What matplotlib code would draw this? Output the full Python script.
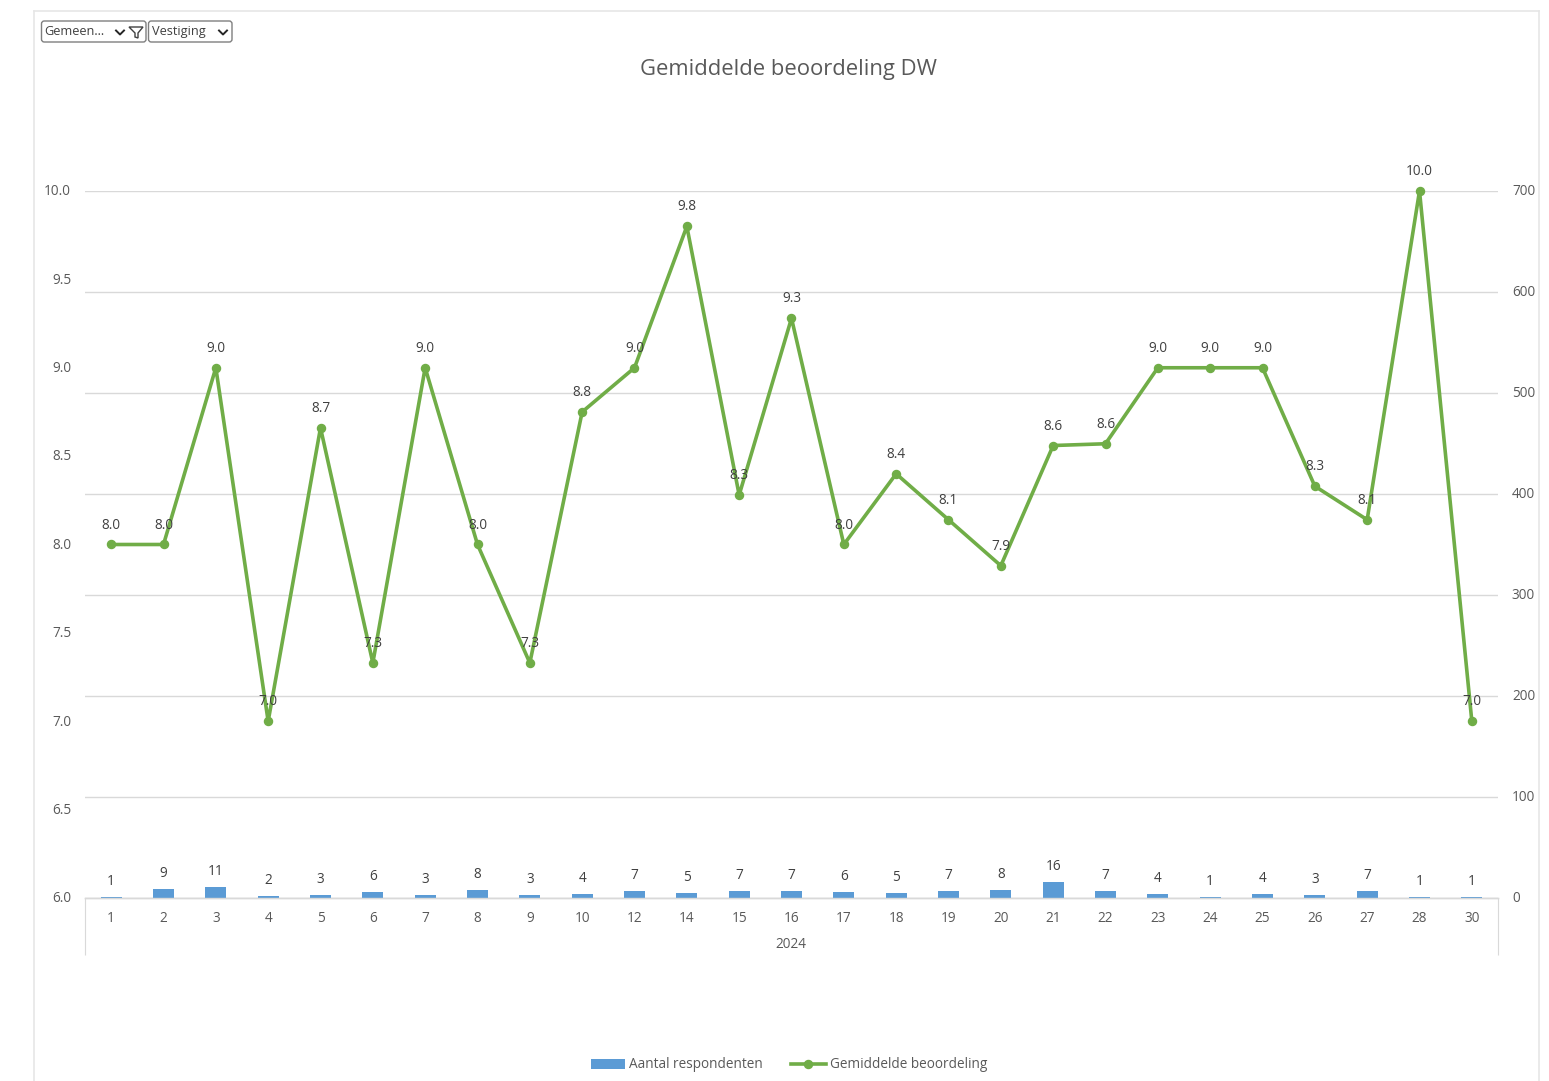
import matplotlib
matplotlib.use("Agg")
import matplotlib.pyplot as plt
from matplotlib.lines import Line2D
from matplotlib.patches import FancyBboxPatch, Polygon
from matplotlib.transforms import ScaledTranslation

plt.rcParams['font.family'] = ['Open Sans', 'DejaVu Sans']

days = ['1','2','3','4','5','6','7','8','9','10','12','14','15','16','17','18','19','20','21','22','23','24','25','26','27','28','30']
respondents = [1,9,11,2,3,6,3,8,3,4,7,5,7,7,6,5,7,8,16,7,4,1,4,3,7,1,1]
ratings = [8.0,8.0,9.0,7.0,8.66,7.33,9.0,8.0,7.33,8.75,9.0,9.8,8.28,9.28,8.0,8.4,8.14,7.88,8.56,8.57,9.0,9.0,9.0,8.33,8.14,10.0,7.0]
left_ticks = [6.0,6.5,7.0,7.5,8.0,8.5,9.0,9.5,10.0]
right_ticks = [0,100,200,300,400,500,600,700]
year = '2024'
title = 'Gemiddelde beoordeling DW'
bar_name = 'Aantal respondenten'
line_name = 'Gemiddelde beoordeling'

W, H = 1549, 1081
TXT = '#595959'
GRID = '#d9d9d9'
BLUE = '#5b9bd5'
GREEN = '#70ad47'
FS = 9.8

def fx(x): return x / W
def fy(y): return 1 - y / H

fig = plt.figure(figsize=(W/100, H/100), dpi=100, facecolor='white')

# outer frame of the screenshot
for xs, ys in [([34,34],[11,1081]), ([34,1539],[11,11]), ([1539,1539],[11,1081])]:
    fig.add_artist(Line2D([fx(v) for v in xs], [fy(v) for v in ys], color='#e6e6e6', lw=1.2))

ax2 = fig.add_axes([fx(85), fy(898), (1498-85)/W, (898-191)/H])
ax = ax2.twinx()
ax2.yaxis.tick_right()
ax.yaxis.tick_left()
ax.set_zorder(ax2.get_zorder()+1)
ax.patch.set_visible(False)

pos = list(range(len(days)))
bars = ax2.bar(pos, respondents, width=0.4, color=BLUE, zorder=3, label=bar_name)
ax2.set_ylim(0, 700)
ax2.set_yticks(right_ticks)
ax2.tick_params(axis='y', length=0, pad=10, labelsize=FS, labelcolor=TXT)
ax2.grid(axis='y', color=GRID, lw=1)
ax2.set_axisbelow(True)
ax2.set_xlim(-0.5, len(days)-0.5)

line, = ax.plot(pos, ratings, color=GREEN, lw=2.6, marker='o', ms=5.8, zorder=4,
                solid_joinstyle='round', clip_on=False, label=line_name)
ax.set_ylim(6, 10)
ax.set_yticks(left_ticks)
ax.set_yticklabels([f'{v:.1f}' for v in left_ticks])
ax.tick_params(axis='y', length=0, pad=10, labelsize=FS, labelcolor=TXT)

# tick labels sit one pixel above their gridlines in the reference
up = ScaledTranslation(0, 1.2/100, fig.dpi_scale_trans)
for a in (ax, ax2):
    for lab in a.get_yticklabels():
        lab.set_transform(lab.get_transform() + up)

# x axis: outer ticks at the ends, day labels between them
ax2.set_xticks([-0.5, len(days)-0.5])
ax2.set_xticklabels(['', ''])
ax2.tick_params(axis='x', which='major', length=41, width=0.8, color=GRID)
ax2.set_xticks(pos, minor=True)
ax2.set_xticklabels(days, minor=True)
ax2.tick_params(axis='x', which='minor', length=0, pad=9.2, labelsize=FS, labelcolor=TXT)
ax.tick_params(axis='x', length=0)

for a in (ax, ax2):
    for s in ('top', 'left', 'right'):
        a.spines[s].set_visible(False)
    a.spines['bottom'].set_color(GRID)
    a.spines['bottom'].set_linewidth(1)

for x, v in zip(pos, ratings):
    ax.annotate(f'{v:.1f}', (x, v), xytext=(0, 14), textcoords='offset points',
                ha='center', va='center', fontsize=FS, color='#404040', zorder=5)
for x, v in zip(pos, respondents):
    ax2.annotate(str(v), (x, v), xytext=(0, 11), textcoords='offset points',
                 ha='center', va='center', fontsize=FS, color='#404040', zorder=5)

fig.text(fx(791), fy(944), year, ha='center', va='center', fontsize=FS, color=TXT)
fig.text(fx(788.5), fy(69), title, ha='center', va='center', fontsize=15.8, color=TXT)

fig.legend([bars, line], [bar_name, line_name], loc='center', bbox_to_anchor=(fx(789), fy(1065)),
           ncol=2, frameon=False, fontsize=FS, labelcolor=TXT, handlelength=2.5, handleheight=0.7,
           handletextpad=0.3, columnspacing=2.1, borderpad=0, borderaxespad=0)

# filter buttons of the pivot chart
def button(x0, x1, label, chevron_x):
    fig.add_artist(FancyBboxPatch((fx(x0), fy(42)), fx(x1-x0), (42-21)/H,
                                  boxstyle='round,pad=0,rounding_size=0.0018', mutation_aspect=W/H,
                                  fc='white', ec='#7f7f7f', lw=1, transform=fig.transFigure))
    fig.text(fx(x0+3), fy(31.5), label, ha='left', va='center', fontsize=9.2, color='#404040')
    fig.add_artist(Line2D([fx(chevron_x-4), fx(chevron_x), fx(chevron_x+4)], [fy(30.5), fy(34.5), fy(30.5)],
                          color='#262626', lw=1.4))

button(41.5, 146, 'Gemeen...', 120)
button(148.5, 232, 'Vestiging', 223)
fig.add_artist(Polygon([(fx(129), fy(27)), (fx(143), fy(27)), (fx(138), fy(33)), (fx(138), fy(38)),
                        (fx(135), fy(37)), (fx(135), fy(33))], closed=True, fc='white', ec='#404040', lw=1,
                       transform=fig.transFigure))

fig.savefig('out.png', dpi=100)
